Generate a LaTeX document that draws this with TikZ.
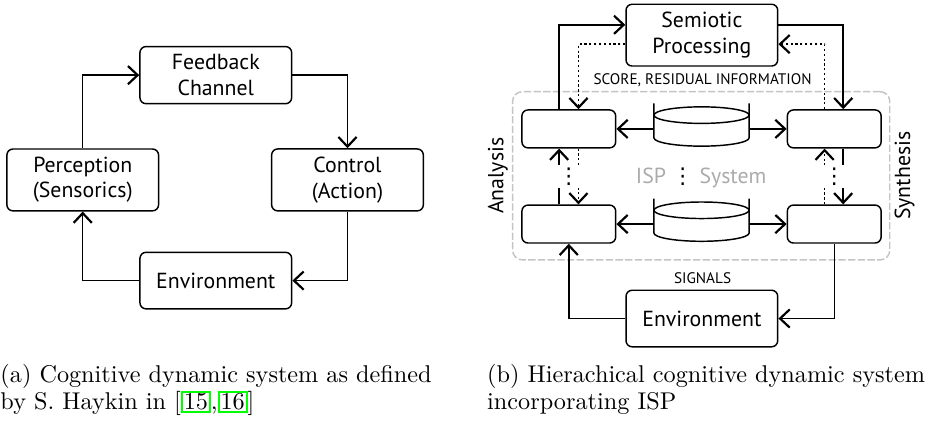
\documentclass[tikz,border=0pt]{standalone}
\usepackage{fontspec}
\newfontfamily\dinfont{PT Sans}
\newfontfamily\symfont{DejaVu Sans}
\usetikzlibrary{arrows.meta, positioning, calc, shapes}
\definecolor{ispgray}{HTML}{ABABAB}
\definecolor{framegray}{HTML}{C4C4C4}
\definecolor{linkgreen}{HTML}{00FF00}
\newcommand{\citelink}[1]{{\fboxsep=0.4pt\fboxrule=0.8pt\color{linkgreen}\fbox{\color{black}#1}}}
\newcommand{\drawstore}[1]{%
  \draw[line width=0.6pt] ([yshift=0.37cm]#1.west) -- ([yshift=-0.13cm]#1.west)
    arc[start angle=180, end angle=360, x radius=0.69cm, y radius=0.12cm]
    -- ([yshift=0.37cm]#1.east);
  \draw[line width=0.6pt] ([yshift=0.2cm]#1.center) ellipse[x radius=0.69cm, y radius=0.12cm];}

\begin{document}
\begin{tikzpicture}[
      box/.style={draw, rounded corners=2.5pt, line width=0.6pt,
                  minimum width=2.2cm, minimum height=0.82cm,
                  font=\dinfont\fontsize{9}{10.5}\selectfont, align=center},
      sbox/.style={box, minimum width=1.36cm, minimum height=0.55cm},
      store/.style={minimum width=1.38cm, minimum height=0.4cm, inner sep=0pt, outer sep=0pt},
      frame/.style={draw=framegray, rounded corners=4pt, line width=0.6pt,
                    dash pattern=on 3pt off 1pt},
      gapmark/.style={fill=white, minimum width=0.45cm, minimum height=0.32cm,
                      inner sep=0pt, font=\symfont\fontsize{9}{9}\selectfont},
      lbl/.style={font=\dinfont\fontsize{6.3}{7}\selectfont},
      side/.style={font=\dinfont\fontsize{9}{10}\selectfont, rotate=90},
      caption/.style={font=\fontsize{10}{11.2}\selectfont, align=left,
                      inner sep=0pt, anchor=north west},
      arr/.style={-{Straight Barb[length=4pt, width=7.5pt, line width=0.9pt]}, line width=0.6pt},
      dotline/.style={dash pattern=on 0.9pt off 1.1pt}
    ]
      \useasboundingbox (0,0) rectangle (13.46,6.19);

      % (a) cognitive dynamic system
      \node[box] (fb) at (3.13,5.10) {Feedback\\Channel};
      \node[box] (perc) at (1.20,3.58) {Perception\\(Sensorics)};
      \node[box] (ctrl) at (5.04,3.58) {Control\\(Action)};
      \node[box] (env) at (3.13,2.12) {Environment};

      \draw[arr] (perc) |- (fb);
      \draw[arr] (fb) -| (ctrl);
      \draw[arr] (ctrl) |- (env);
      \draw[arr] (env) -| (perc);

      % (b) hierarchical system with ISP
      \node[frame, minimum width=5.47cm, minimum height=2.44cm] (isp) at (10.17,3.64) {};
      \node[box] (sem) at (10.18,5.68) {Semiotic\\Processing};
      \node[sbox] (ul) at (8.25,4.32) {};
      \node[sbox] (ll) at (8.25,2.94) {};
      \node[sbox] (ur) at (12.10,4.32) {};
      \node[sbox] (lr) at (12.10,2.94) {};
      \node[store] (db1) at (10.175,4.32) {};
      \node[store] (db2) at (10.175,2.94) {};
      \drawstore{db1}
      \drawstore{db2}
      \node[box] (env2) at (10.18,1.57) {Environment};

      \node[lbl] (lblscore) at (10.19,5.03) {SCORE, RESIDUAL INFORMATION};
      \node[lbl] (lblsig) at (10.19,2.16) {SIGNALS};
      \node[font=\dinfont\fontsize{9}{10}\selectfont, text=ispgray] (lblisp) at (10.17,3.61)
        {ISP {\symfont\color{black}⋮} System};
      \node[side] (lblana) at (7.22,3.64) {Analysis};
      \node[side] (lblsyn) at (13.12,3.64) {Synthesis};

      \draw[arr] (db1) -- (ul);
      \draw[arr] (db1) -- (ur);
      \draw[arr] (db2) -- (ll);
      \draw[arr] (db2) -- (lr);

      \draw[arr] ([xshift=-0.14cm]ul.north) |- ([yshift=0.15cm]sem.west);
      \draw[arr, dotline] ([yshift=-0.13cm]sem.west) -| ([xshift=0.14cm]ul.north);
      \draw[arr] ([yshift=0.15cm]sem.east) -| ([xshift=0.13cm]ur.north);
      \draw[arr, dotline] ([xshift=-0.14cm]ur.north) |- ([yshift=-0.13cm]sem.east);

      \draw[arr] ([xshift=-0.14cm]ll.north) -- ([xshift=-0.14cm]ul.south);
      \draw[arr, dotline] ([xshift=0.14cm]ul.south) -- ([xshift=0.14cm]ll.north);
      \draw[arr] ([xshift=0.13cm]ur.south) -- ([xshift=0.13cm]lr.north);
      \draw[arr, dotline] ([xshift=-0.14cm]lr.north) -- ([xshift=-0.14cm]ur.south);
      \node[gapmark] (gapl) at ($(ul.south)!0.5!(ll.north)$) {⋮};
      \node[gapmark] (gapr) at ($(ur.south)!0.5!(lr.north)$) {⋮};

      \draw[arr] (lr) |- (env2);
      \draw[arr] (env2) -| (ll);

      % captions
      \node[caption] (capa) at (0,0.91)
        {(a) Cognitive dynamic system as defined\\by S. Haykin in [\citelink{15},\citelink{16}]};
      \node[caption] (capb) at (7.06,0.91)
        {(b) Hierachical cognitive dynamic system\\incorporating ISP};
    \end{tikzpicture}
\end{document}
